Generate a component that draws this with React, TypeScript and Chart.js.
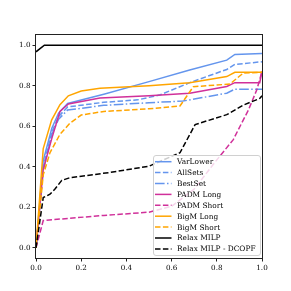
import React, { useEffect, useRef } from "react";
import { Chart, registerables } from "chart.js";

Chart.register(...registerables);

type P = { x: number; y: number };

const seriesNames = [
  "VarLower",
  "AllSets",
  "BestSet",
  "PADM Long",
  "PADM Short",
  "BigM Long",
  "BigM Short",
  "Relax MILP",
  "Relax MILP - DCOPF",
];

const varLower: P[] = [
  { x: 0, y: 0 }, { x: 0.032, y: 0.43 }, { x: 0.07, y: 0.59 }, { x: 0.1, y: 0.665 },
  { x: 0.14, y: 0.712 }, { x: 0.3, y: 0.758 }, { x: 0.5, y: 0.82 }, { x: 0.68, y: 0.877 },
  { x: 0.844, y: 0.926 }, { x: 0.88, y: 0.954 }, { x: 1, y: 0.959 },
];
const allSets: P[] = [
  { x: 0, y: 0 }, { x: 0.032, y: 0.4 }, { x: 0.07, y: 0.57 }, { x: 0.1, y: 0.648 },
  { x: 0.14, y: 0.695 }, { x: 0.3, y: 0.718 }, { x: 0.45, y: 0.73 }, { x: 0.55, y: 0.755 },
  { x: 0.68, y: 0.815 }, { x: 0.844, y: 0.88 }, { x: 0.88, y: 0.905 }, { x: 1, y: 0.918 },
];
const bestSet: P[] = [
  { x: 0, y: 0 }, { x: 0.032, y: 0.38 }, { x: 0.07, y: 0.56 }, { x: 0.1, y: 0.635 },
  { x: 0.14, y: 0.68 }, { x: 0.3, y: 0.703 }, { x: 0.5, y: 0.716 }, { x: 0.65, y: 0.724 },
  { x: 0.844, y: 0.763 }, { x: 0.88, y: 0.783 }, { x: 1, y: 0.783 },
];
const padmLong: P[] = [
  { x: 0, y: 0 }, { x: 0.032, y: 0.387 }, { x: 0.07, y: 0.54 }, { x: 0.106, y: 0.673 },
  { x: 0.143, y: 0.71 }, { x: 0.283, y: 0.739 }, { x: 0.5, y: 0.75 }, { x: 0.68, y: 0.763 },
  { x: 0.844, y: 0.796 }, { x: 0.88, y: 0.815 }, { x: 0.99, y: 0.815 }, { x: 1, y: 0.87 },
];
const padmShort: P[] = [
  { x: 0, y: 0 }, { x: 0.032, y: 0.135 }, { x: 0.3, y: 0.16 }, { x: 0.5, y: 0.176 },
  { x: 0.6, y: 0.205 }, { x: 0.7, y: 0.29 }, { x: 0.79, y: 0.42 }, { x: 0.873, y: 0.534 },
  { x: 0.903, y: 0.6 }, { x: 0.94, y: 0.68 }, { x: 0.977, y: 0.78 }, { x: 1, y: 0.87 },
];
const bigMLong: P[] = [
  { x: 0, y: 0 }, { x: 0.032, y: 0.49 }, { x: 0.069, y: 0.63 }, { x: 0.106, y: 0.706 },
  { x: 0.143, y: 0.75 }, { x: 0.2, y: 0.774 }, { x: 0.283, y: 0.787 }, { x: 0.5, y: 0.8 },
  { x: 0.68, y: 0.815 }, { x: 0.844, y: 0.845 }, { x: 0.88, y: 0.866 }, { x: 1, y: 0.866 },
];
const bigMShort: P[] = [
  { x: 0, y: 0 }, { x: 0.032, y: 0.36 }, { x: 0.062, y: 0.47 }, { x: 0.106, y: 0.56 },
  { x: 0.15, y: 0.615 }, { x: 0.2, y: 0.655 }, { x: 0.3, y: 0.673 }, { x: 0.5, y: 0.686 },
  { x: 0.637, y: 0.7 }, { x: 0.696, y: 0.795 }, { x: 0.858, y: 0.808 }, { x: 0.917, y: 0.862 },
  { x: 1, y: 0.866 },
];
const relaxMilp: P[] = [
  { x: 0, y: 0.967 }, { x: 0.037, y: 1.0 }, { x: 1, y: 1.0 },
];
const relaxDcopf: P[] = [
  { x: 0, y: 0 }, { x: 0.032, y: 0.248 }, { x: 0.062, y: 0.265 }, { x: 0.084, y: 0.29 },
  { x: 0.114, y: 0.333 }, { x: 0.15, y: 0.346 }, { x: 0.327, y: 0.372 }, { x: 0.5, y: 0.403 },
  { x: 0.637, y: 0.469 }, { x: 0.704, y: 0.608 }, { x: 0.844, y: 0.657 }, { x: 0.917, y: 0.704 },
  { x: 0.99, y: 0.737 }, { x: 1, y: 0.75 },
];

const xTicks = [0, 0.2, 0.4, 0.6, 0.8, 1.0];
const yTicks = [0, 0.2, 0.4, 0.6, 0.8, 1.0];

const BLUE = "#6495ED";
const PINK = "#D0309A";
const ORANGE = "#FFA500";
const BLACK = "#000000";
const SOLID: number[] = [];
const DASH = [5.5, 2.4];
const DASHDOT = [9.6, 2.4, 1.5, 2.4];

const styles = [
  { c: BLUE, d: SOLID },
  { c: BLUE, d: DASH },
  { c: BLUE, d: DASHDOT },
  { c: PINK, d: SOLID },
  { c: PINK, d: DASH },
  { c: ORANGE, d: SOLID },
  { c: ORANGE, d: DASH },
  { c: BLACK, d: SOLID },
  { c: BLACK, d: DASH },
];

const allData = [varLower, allSets, bestSet, padmLong, padmShort, bigMLong, bigMShort, relaxMilp, relaxDcopf];

const FONT = "'DejaVu Serif', serif";

const framePlugin = {
  id: "frameAndLegend",
  afterDatasetsDraw(chart: any) {
    const { ctx, chartArea } = chart;
    ctx.save();
    ctx.strokeStyle = "#222";
    ctx.lineWidth = 1;
    ctx.setLineDash([]);
    ctx.strokeRect(chartArea.left - 0.5, chartArea.top - 0.5, chartArea.right - chartArea.left + 1, chartArea.bottom - chartArea.top + 1);

    // legend
    const lx = chartArea.right - 109;
    const ly = chartArea.bottom - 103;
    const lw = 107;
    const lh = 100;
    ctx.beginPath();
    (ctx as any).roundRect(lx + 0.5, ly + 0.5, lw, lh, 2.5);
    ctx.fillStyle = "rgba(255,255,255,0.8)";
    ctx.fill();
    ctx.strokeStyle = "#d0d0d0";
    ctx.lineWidth = 1;
    ctx.stroke();
    ctx.font = `7.4px ${FONT}`;
    ctx.textBaseline = "middle";
    ctx.textAlign = "left";
    for (let i = 0; i < seriesNames.length; i++) {
      const cy = ly + 6.7 + i * 10.9;
      ctx.beginPath();
      ctx.strokeStyle = styles[i].c;
      ctx.lineWidth = 1.5;
      ctx.setLineDash(styles[i].d);
      ctx.moveTo(lx + 2, cy);
      ctx.lineTo(lx + 18.5, cy);
      ctx.stroke();
      ctx.setLineDash([]);
      ctx.fillStyle = "#000";
      ctx.fillText(seriesNames[i], lx + 24, cy + 0.5);
    }
    ctx.restore();
  },
};

export default function App() {
  const ref = useRef<HTMLCanvasElement | null>(null);
  useEffect(() => {
    if (!ref.current) return;
    const n = seriesNames.length;
    const chart = new Chart(ref.current, {
      type: "line",
      data: {
        datasets: seriesNames.map((name, i) => ({
          label: name,
          data: allData[i],
          borderColor: styles[i].c,
          borderDash: styles[i].d,
          borderWidth: 1.5,
          pointRadius: 0,
          fill: false,
          tension: 0,
          order: n - i,
        })),
      },
      options: {
        animation: false,
        responsive: false,
        devicePixelRatio: 1,
        layout: { padding: { left: 0, top: 35, right: 29, bottom: 0 } },
        plugins: { legend: { display: false }, tooltip: { enabled: false } },
        scales: {
          x: {
            type: "linear",
            min: 0,
            max: 1,
            afterBuildTicks: (s: any) => { s.ticks = xTicks.map((v) => ({ value: v })); },
            afterFit: (s: any) => { s.height = 33; },
            grid: { drawOnChartArea: false, drawTicks: true, tickLength: 3.5, color: "#222" },
            border: { display: false },
            ticks: {
              color: "#000",
              padding: 2,
              maxRotation: 0,
              font: { family: FONT, size: 7.2 },
              callback: (v: any) => Number(v).toFixed(1),
            },
          },
          y: {
            type: "linear",
            min: -0.05,
            max: 1.05,
            afterBuildTicks: (s: any) => { s.ticks = yTicks.map((v) => ({ value: v })); },
            afterFit: (s: any) => { s.width = 36; },
            grid: { drawOnChartArea: false, drawTicks: true, tickLength: 3.5, color: "#222" },
            border: { display: false },
            ticks: {
              color: "#000",
              padding: 2,
              font: { family: FONT, size: 7.2 },
              callback: (v: any) => Number(v).toFixed(1),
            },
          },
        },
      },
      plugins: [framePlugin],
    } as any);
    return () => chart.destroy();
  }, []);
  return (
    <div style={{ position: "absolute", left: 0, top: 0, width: 291, height: 291, background: "#fff" }}>
      <canvas ref={ref} width={291} height={291} style={{ width: 291, height: 291, display: "block" }} />
    </div>
  );
}
